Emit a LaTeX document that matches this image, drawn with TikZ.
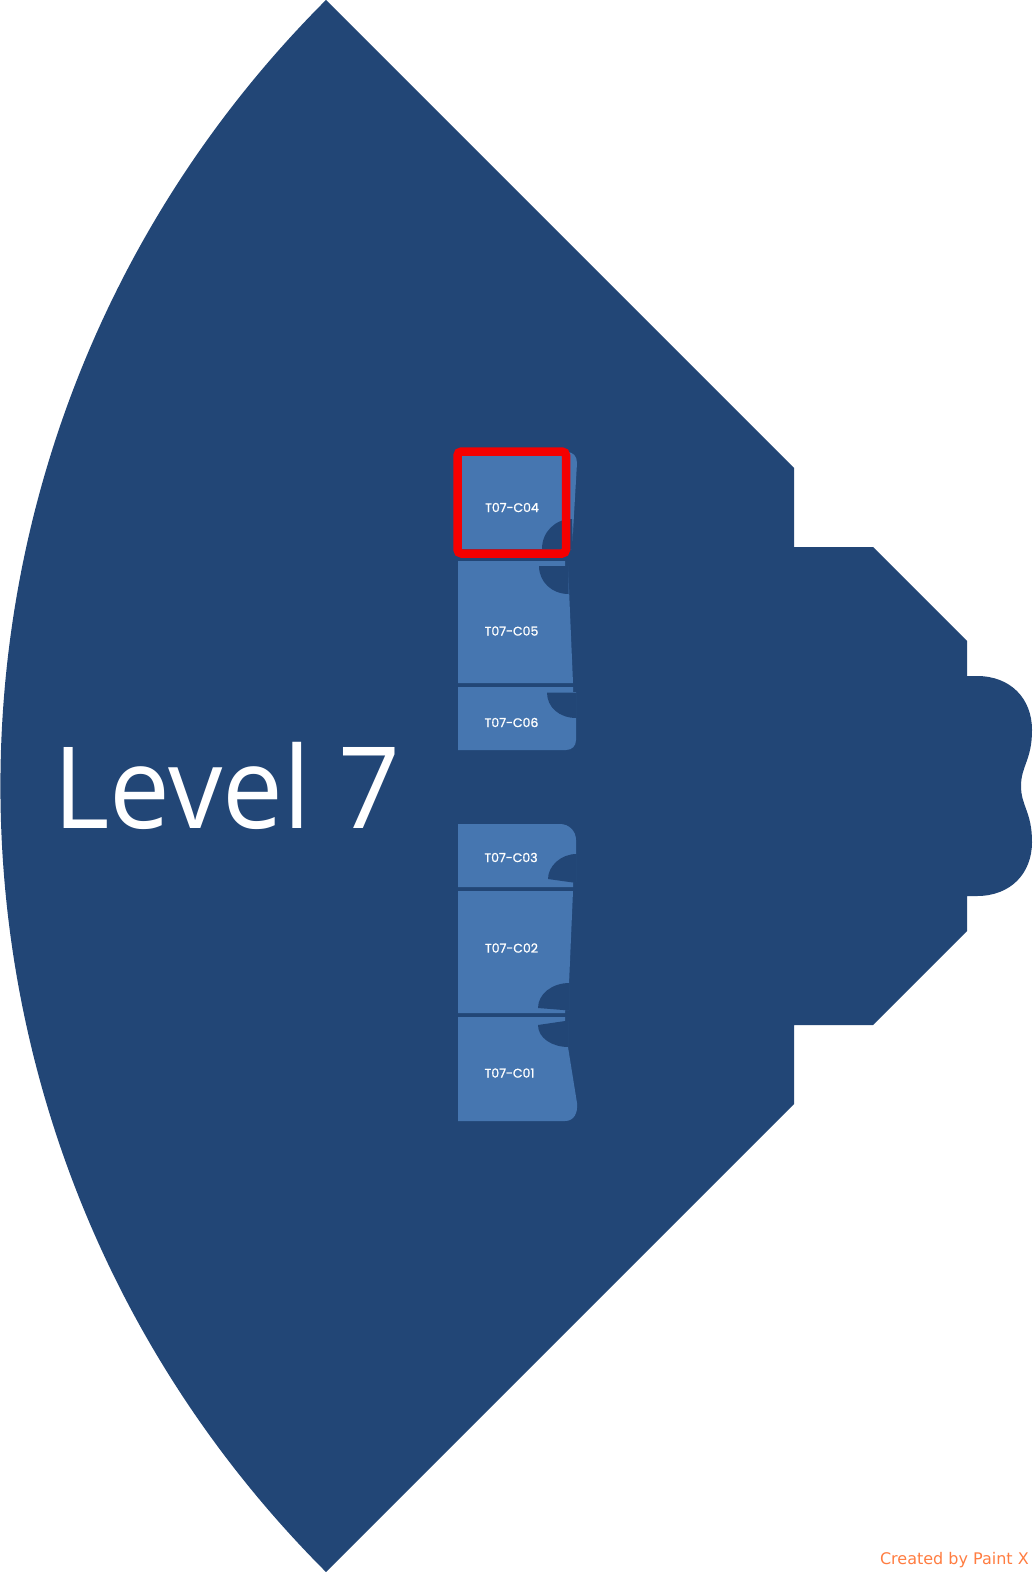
\documentclass[tikz,border=0pt]{standalone}
\usepackage{fontspec}
\setmainfont{Open Sans}
\newfontfamily\labelfont[FakeBold=1.2]{Poppins}
\newfontfamily\creditfont{DejaVu Sans}
\definecolor{bgblue}{RGB}{34,70,118}
\definecolor{roomblue}{RGB}{70,118,176}
\definecolor{selred}{RGB}{245,0,0}
\definecolor{credit}{RGB}{255,125,65}
\tikzset{
  floor/.style={fill=bgblue, draw=none},
  room/.style={fill=roomblue, draw=none},
  swing/.style={fill=bgblue, draw=none},
  roomlabel/.style={text=white, font=\labelfont\fontsize{12.5}{14}\selectfont, inner sep=0pt},
  select/.style={draw=selred, line width=8.5pt, rounded corners=4pt},
}
\begin{document}
\begin{tikzpicture}[x=1pt,y=-1pt]
\useasboundingbox[fill=white] (0,0) rectangle (1034,1572);
% floor outline
\path[floor] (326,0) -- (794,468) -- (794,547) -- (873,547) -- (967,641) -- (967,676) -- (977,676)
  .. controls (1010,676) and (1032,698) .. (1032,730)
  .. controls (1032,760) and (1021,766) .. (1021,786)
  .. controls (1021,806) and (1032,812) .. (1032,842)
  .. controls (1032,874) and (1010,896) .. (977,896)
  -- (967,896) -- (967,931) -- (873,1025) -- (794,1025) -- (794,1104) -- (326,1572)
  arc[start angle=135, end angle=225, radius=1111.6] -- cycle;
% C04
\path[room] (458,452) -- (567,452) .. controls (573,452) and (577,456) .. (577,463) -- (572,549) -- (458,549) -- cycle;
\path[swing] (572,519) .. controls (555,519) and (542,532) .. (542,549) -- (573,549) -- cycle;
% C05
\path[room] (458,561) -- (565,561) -- (565,566) -- (568,566) -- (573,683) -- (458,683) -- cycle;
\path[swing] (568.5,566) -- (539,566) .. controls (539,582) and (552,594) .. (568.5,594) -- cycle;
% C06
\path[room] (458,687) -- (573,687) -- (573,692) -- (576,692) -- (576,740) .. controls (576,746) and (572,750) .. (566,750) -- (458,750) -- cycle;
\path[swing] (576.5,692.5) -- (547,692.5) .. controls (547,707) and (559,718) .. (576.5,718) -- cycle;
% C03
\path[room] (458,824) -- (560,824) .. controls (569,824) and (576,831) .. (576,840) -- (576,882) -- (573,882) -- (573,887) -- (458,887) -- cycle;
\path[swing] (576.5,854) .. controls (561,854) and (548,866) .. (548,879) -- (576.5,883) -- cycle;
% C02
\path[room] (458,891) -- (573,891) -- (569,984) -- (569,1010) -- (565,1010) -- (565,1013) -- (458,1013) -- cycle;
\path[swing] (569.5,983) .. controls (552,983) and (538,994) .. (538,1008) -- (569.5,1010.5) -- cycle;
% C01
\path[room] (458,1017) -- (565,1017) -- (565,1021) -- (568,1021) -- (568,1047) -- (577,1103)
  .. controls (578,1113) and (574,1121) .. (565,1121) -- (458,1121) -- cycle;
\path[swing] (538,1025) -- (568.5,1020.5) -- (568.5,1047) .. controls (552,1047) and (538,1038) .. (538,1025) -- cycle;
% labels
\node[roomlabel] (c04) at (512,507.5) {T07-C04};
\node[roomlabel] (c05) at (511.5,631) {T07-C05};
\node[roomlabel] (c06) at (511.5,722.5) {T07-C06};
\node[roomlabel] (c03) at (511,857.5) {T07-C03};
\node[roomlabel] (c02) at (511.5,948) {T07-C02};
\node[roomlabel] (c01) at (509.5,1073) {T07-C01};
% selection
\draw[select] (457.5,451.5) rectangle (566,553.5);
% level title
\node[anchor=base west, text=white, font=\fontsize{113.5}{120}\selectfont, inner sep=0pt] (title) at (53,828) {\scalebox{0.955}[1]{Level 7}};
% credit
\node[anchor=base east, text=credit, font=\creditfont\fontsize{16}{18}\selectfont, inner sep=0pt] (credit) at (1029,1564) {Created by Paint X};
\end{tikzpicture}
\end{document}
